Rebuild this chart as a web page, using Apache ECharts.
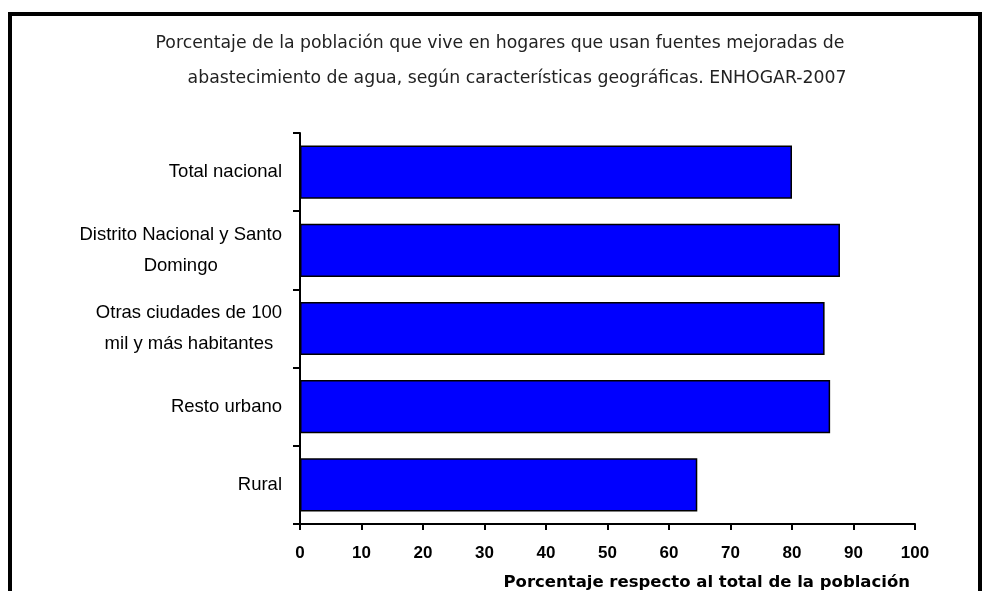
<!DOCTYPE html>
<html>
<head>
<meta charset="utf-8">
<script src="https://cdn.jsdelivr.net/npm/echarts@6/dist/echarts.min.js"></script>
<style>
html,body{margin:0;padding:0;background:#fff;}
#wrap{position:relative;width:982px;height:591px;overflow:hidden;}
#chart{position:absolute;left:0;top:0;width:982px;height:591px;}
#frame{position:absolute;left:8px;top:12px;width:966px;height:600px;border-left:4px solid #000;border-top:4px solid #000;border-right:4px solid #000;pointer-events:none;}
</style>
</head>
<body>
<div id="wrap"><div id="chart"></div><div id="frame"></div></div>
<script>
const titleLines = [
  'Porcentaje de la población que vive en hogares que usan fuentes mejoradas de',
  'abastecimiento de agua, según características geográficas. ENHOGAR-2007'
];
const categories = [
  'Total nacional',
  'Distrito Nacional y Santo\nDomingo',
  'Otras ciudades de 100\nmil y más habitantes',
  'Resto urbano',
  'Rural'
];
const values = [80.0, 87.8, 85.3, 86.2, 64.6];
const xTicks = { min: 0, max: 100, interval: 10 };
const xAxisName = 'Porcentaje respecto al total de la población';

const chart = echarts.init(document.getElementById('chart'), null, { renderer: 'canvas' });
const labelFont = '"Liberation Sans", Arial, sans-serif';
const titleFont = '"DejaVu Sans", sans-serif';
chart.setOption({
  animation: false,
  backgroundColor: '#fff',
  title: [
    { text: titleLines[0], left: 495, top: 30, textAlign: 'center',
      textStyle: { fontFamily: titleFont, fontSize: 17.3, fontWeight: 'normal', color: '#222' } },
    { text: titleLines[1], left: 512, top: 65, textAlign: 'center',
      textStyle: { fontFamily: titleFont, fontSize: 17.3, fontWeight: 'normal', color: '#222' } }
  ],
  grid: { left: 300, right: 67, top: 133, bottom: 67, containLabel: false },
  xAxis: {
    type: 'value',
    min: xTicks.min, max: xTicks.max, interval: xTicks.interval,
    splitLine: { show: false },
    axisLine: { show: true, lineStyle: { color: '#000', width: 2 } },
    axisTick: { show: true, length: 6, lineStyle: { color: '#000', width: 2 } },
    axisLabel: { margin: 21, color: '#000', fontSize: 17, fontWeight: 'bold', fontFamily: labelFont },
    name: xAxisName,
    nameLocation: 'end',
    nameGap: -5,
    nameTextStyle: { align: 'right', verticalAlign: 'top', padding: [50, 0, 0, 0], fontSize: 16.5, fontWeight: 'bold', color: '#000', fontFamily: '"DejaVu Sans", sans-serif' }
  },
  yAxis: {
    type: 'category',
    inverse: true,
    data: categories,
    boundaryGap: true,
    axisLine: { show: true, lineStyle: { color: '#000', width: 2 } },
    axisTick: { show: true, length: 7, alignWithLabel: false, lineStyle: { color: '#000', width: 2 } },
    axisLabel: {
      margin: 18, color: '#000', align: 'right',
      formatter: function (v) { return v.split('\n').map(s => '{c|' + s + '}').join('\n'); },
      rich: { c: { align: 'center', fontSize: 18.5, lineHeight: 31, color: '#000', fontFamily: labelFont } }
    }
  },
  series: [{
    type: 'bar',
    data: values,
    barCategoryGap: '32%',
    itemStyle: { color: '#0000ff', borderColor: '#000', borderWidth: 1.5 }
  }]
});
</script>
</body>
</html>
